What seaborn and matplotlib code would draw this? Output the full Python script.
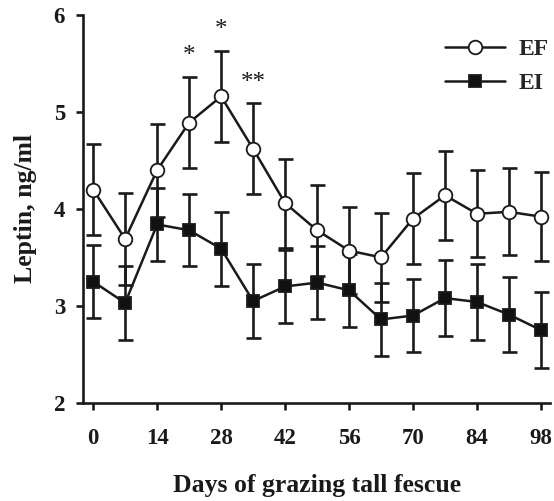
import numpy as np
import pandas as pd
import matplotlib
matplotlib.use("Agg")
import matplotlib.pyplot as plt
import seaborn as sns
from matplotlib.lines import Line2D

# Data
days = [0, 7, 14, 21, 28, 35, 42, 49, 56, 63, 70, 77, 84, 91, 98]
ef_mean = [4.20, 3.69, 4.40, 4.89, 5.16, 4.62, 4.06, 3.78, 3.57, 3.50, 3.90, 4.14, 3.95, 3.97, 3.92]
ef_se = [0.47, 0.47, 0.48, 0.47, 0.47, 0.47, 0.46, 0.47, 0.45, 0.46, 0.47, 0.46, 0.45, 0.45, 0.46]
ei_mean = [3.25, 3.03, 3.84, 3.78, 3.59, 3.05, 3.20, 3.24, 3.16, 2.86, 2.90, 3.08, 3.04, 2.91, 2.75]
ei_se = [0.38, 0.38, 0.38, 0.37, 0.38, 0.38, 0.38, 0.38, 0.38, 0.38, 0.38, 0.39, 0.39, 0.39, 0.39]
stars = {21: "*", 28: "*", 35: "**"}
x_ticks = [0, 14, 28, 42, 56, 70, 84, 98]
y_ticks = [2, 3, 4, 5, 6]

df = pd.DataFrame({
    "day": days * 2,
    "leptin": ef_mean + ei_mean,
    "se": ef_se + ei_se,
    "group": ["EF"] * len(days) + ["EI"] * len(days),
})

sns.set_style("ticks")
plt.rcParams["font.family"] = ["Liberation Serif", "DejaVu Serif"]
plt.rcParams["font.weight"] = "bold"

ink = "#1a1a1a"
fig = plt.figure(figsize=(5.54, 5.01), dpi=100)
ax = fig.add_axes([0.150, 0.196, 0.843, 0.774])

styles = {
    "EF": dict(marker="o", mfc="white", ms=9.8),
    "EI": dict(marker="s", mfc="#111111", ms=8.8),
}

for grp in ["EF", "EI"]:
    d = df[df["group"] == grp]
    ax.errorbar(d["day"], d["leptin"], yerr=d["se"], fmt="none",
                ecolor=ink, elinewidth=1.9, capsize=5.4, capthick=1.9, zorder=2)
    sns.lineplot(data=d, x="day", y="leptin", ax=ax, color=ink,
                 linewidth=1.8, mec=ink, mew=1.3, zorder=3,
                 legend=False, **styles[grp])

# significance marks above EF error bars
ef = df[df["group"] == "EF"].set_index("day")
for day, s in stars.items():
    ax.text(day, ef.loc[day, "leptin"] + ef.loc[day, "se"] + 0.10, s,
            ha="center", va="bottom", fontsize=18, fontweight="normal", color=ink)

ax.set_xlim(-2.2, 100)
ax.set_ylim(2, 6)
ax.set_xticks(x_ticks)
ax.set_yticks(y_ticks)
ax.tick_params(axis="both", labelsize=16.5, width=1.9, length=5, color=ink,
               labelcolor=ink)
ax.tick_params(axis="y", pad=8)
ax.tick_params(axis="x", pad=13.5)
for lab in ax.get_xticklabels() + ax.get_yticklabels():
    lab.set_fontweight("bold")

sns.despine(ax=ax)
for sp in ["left", "bottom"]:
    ax.spines[sp].set_linewidth(1.9)
    ax.spines[sp].set_color(ink)

ax.set_xlabel("Days of grazing tall fescue", fontsize=18.5, fontweight="bold",
              color=ink, labelpad=18)
ax.set_ylabel("Leptin, ng/ml", fontsize=18.5, fontweight="bold", color=ink, labelpad=12)

handles = [
    Line2D([], [], color=ink, lw=1.8, marker="o", mfc="white", mec=ink, ms=9.8, mew=1.3),
    Line2D([], [], color=ink, lw=1.8, marker="s", mfc="#111111", mec=ink, ms=8.8, mew=1.3),
]
leg = ax.legend(handles, ["EF", "EI"], loc="upper right", bbox_to_anchor=(0.998, 0.94),
                borderaxespad=0, borderpad=0, frameon=False, handlelength=2.55,
                handletextpad=0.6, labelspacing=0.55,
                prop={"family": "Liberation Serif", "weight": "bold", "size": 17})

fig.savefig("out.png", dpi=100)
